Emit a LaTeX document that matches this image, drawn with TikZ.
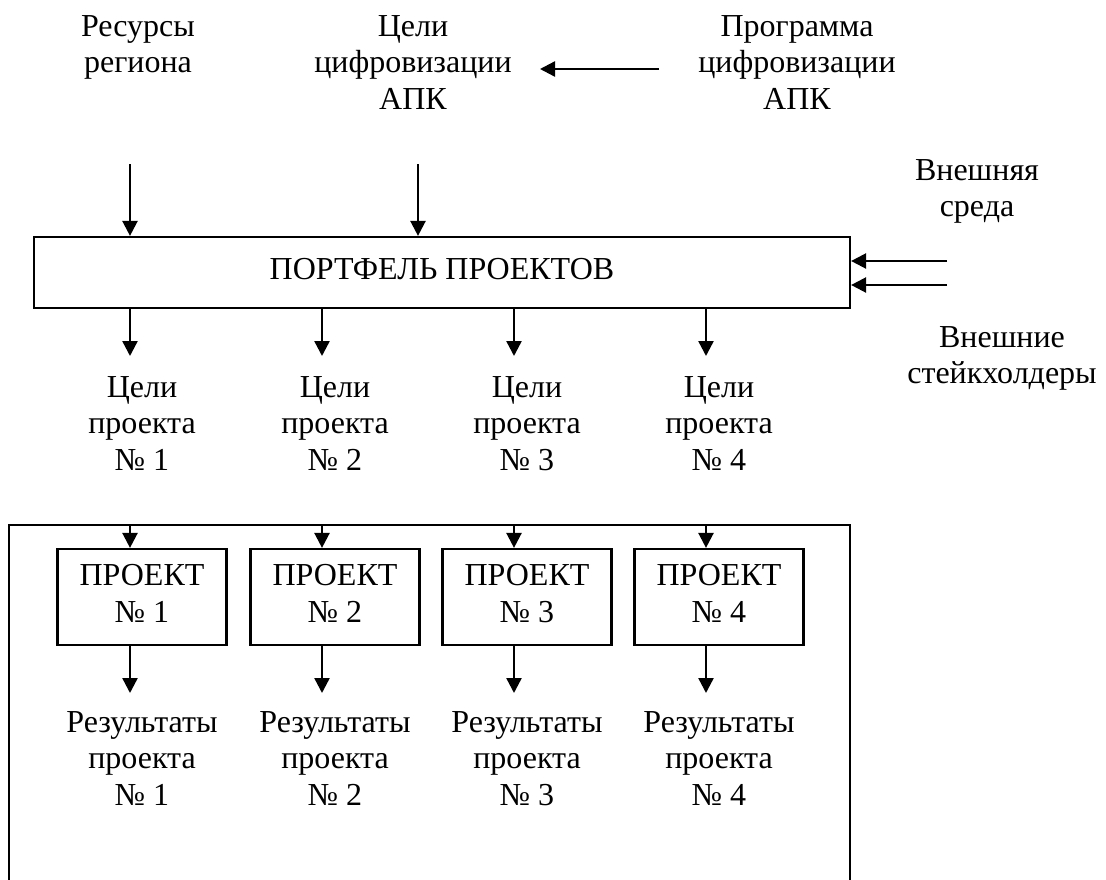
\documentclass[tikz,border=0pt]{standalone}
\usepackage{fontspec}
\setmainfont{Liberation Serif}
\usetikzlibrary{arrows.meta}
\tikzset{
  lbl/.style={align=center, inner sep=0pt, anchor=north, font=\fontsize{32}{36.8}\selectfont},
  boxnode/.style={draw, line width=2.2pt, inner sep=0pt, align=center, font=\fontsize{32}{36.8}\selectfont},
  arr/.style={line width=2.4pt, -{Triangle[length=15pt,width=15pt]}},
  frame/.style={line width=2.2pt}
}
\begin{document}
\begin{tikzpicture}[x=1pt,y=-1pt]
\useasboundingbox (0,0) rectangle (1106,879);
% top labels
\node[lbl] (res) at (138,10.2) {\strut Ресурсы\\\strut региона};
\node[lbl] (goal) at (413,10.2) {\strut Цели\\\strut цифровизации\\\strut АПК};
\node[lbl] (prog) at (797,10.2) {\strut Программа\\\strut цифровизации\\\strut АПК};
\node[lbl] (env) at (977,154.2) {\strut Внешняя\\\strut среда};
\node[lbl] (stake) at (1002,321.2) {\strut Внешние\\\strut стейкхолдеры};
% portfolio
\node[boxnode, minimum width=816pt, minimum height=71pt] (port) at (442,272.5) {\strut ПОРТФЕЛЬ ПРОЕКТОВ};
% coordinates
\coordinate (pa) at (659,69);
\coordinate (pb) at (540,69);
\coordinate (r1) at (130,164);
\coordinate (r2) at (418,164);
\coordinate (e1) at (947,261);
\coordinate (e2) at (947,285);
\draw[arr] (pa) -- (pb);
\draw[arr] (r1) -- (r1 |- port.north);
\draw[arr] (r2) -- (r2 |- port.north);
\draw[arr] (e1) -- (e1 -| port.east);
\draw[arr] (e2) -- (e2 -| port.east);
% big frame
\coordinate (fbl) at (9,884);
\coordinate (ftl) at (9,525);
\coordinate (ftr) at (850,525);
\coordinate (fbr) at (850,884);
\draw[frame] (fbl) -- (ftl) -- (ftr) -- (fbr);
% columns
\foreach \i/\cx/\ax in {1/142/130, 2/335/322, 3/527/514, 4/719/706}{
  \node[lbl] (g\i) at (\cx,371.2) {\strut Цели\\\strut проекта\\\strut № \i};
  \node[boxnode, minimum width=169pt, minimum height=96pt] (p\i) at (\cx,597) {\strut ПРОЕКТ\\\strut № \i};
  \node[lbl] (res\i) at (\cx,706.2) {\strut Результаты\\\strut проекта\\\strut № \i};
  \coordinate (gt\i) at (\ax,356);
  \coordinate (ft\i) at (\ax,525);
  \coordinate (rt\i) at (\ax,693);
  \draw[arr] (port.south -| gt\i) -- (gt\i);
  \draw[arr] (ft\i) -- (ft\i |- p\i.north);
  \draw[arr] (p\i.south -| rt\i) -- (rt\i);
}
\end{tikzpicture}
\end{document}
